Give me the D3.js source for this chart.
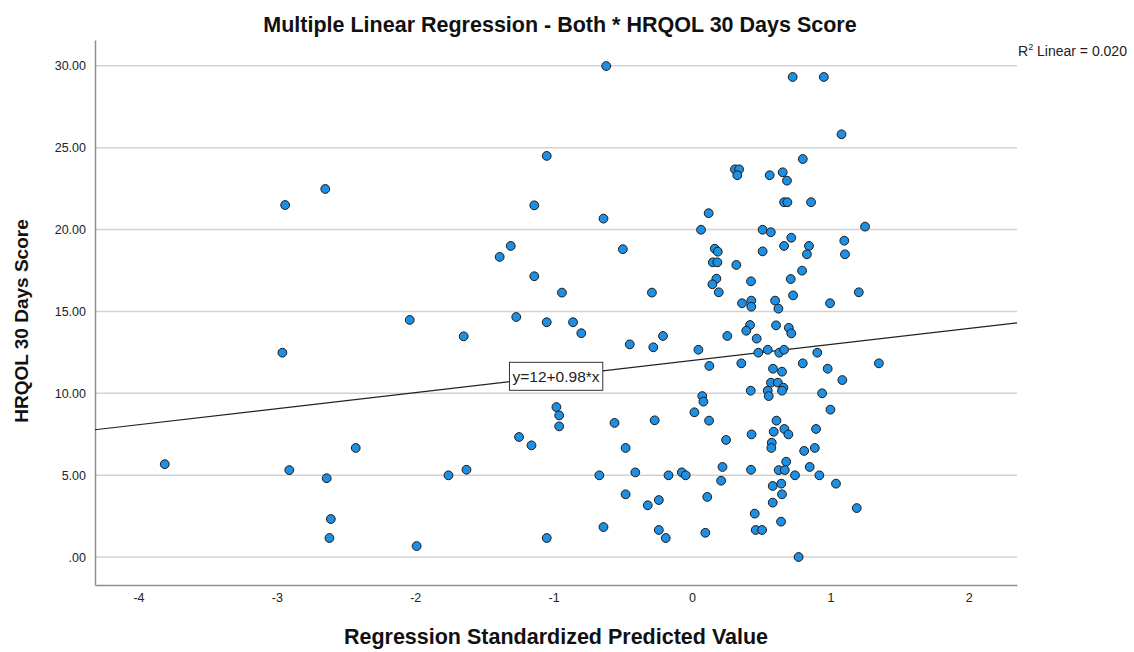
<!DOCTYPE html>
<html>
<head>
<meta charset="utf-8">
<script src="https://cdn.jsdelivr.net/npm/d3@7"></script>
<style>
  body { margin: 0; background: #fff; }
  text { font-family: "Liberation Sans", Arial, sans-serif; }
</style>
</head>
<body>
<div id="chart"></div>
<script>
// values
const predicted = [
  -3.81, -2.94, -2.65, -2.96, -2.91, -2.64, -2.43, -2.61, -2.62, -2.04,
  -1.99, -1.76, -1.63, -1.65, -1.05, -1.14, -0.64, -1.31, -1.39, -0.50,
  -1.14, -0.94, -0.29, -1.27, -1.05, -0.86, -0.80, -0.45, -0.28, -0.21,
  -0.98, -0.96, -0.96, -1.25, -1.16, -1.05, -0.56, -0.48, -0.27, -0.67,
  -0.41, -0.48, -0.32, -0.24, -0.64, -0.24, -0.19, -0.62,
  0.125, 0.356, 0.80, 1.35, 0.585, 0.65, 0.98, 1.086, 0.57, 0.62,
  0.66, 0.65, 0.547, 0.554, 0.424, 0.94, 0.074, 0.082, 0.017, 0.123,
  1.00, 0.61, 0.59, 0.667, 0.696, 0.896, 0.43, 0.246, 0.576, 0.573,
  0.81, 0.887, 0.68, 0.626, 0.67, 0.85, 0.744, 0.92, 1.04, 0.426,
  0.22, 0.21, -0.17, -0.074, -0.046, 0.583, 0.645, 0.65, 0.583, 0.11,
  0.453, 1.19, 0.643, 0.096, 0.46, 0.506, 0.77, 0.665, 0.689, 0.86,
  0.12, 0.065, 0.51, 0.569, 1.25, 0.717, 1.10, 0.665, 0.845, 0.164,
  0.186, 0.51, 0.83, 1.105, 0.15, 0.183, 0.32, 0.795, 0.176, 0.147,
  0.426, 0.713, 0.193, 0.73, 1.205, 0.361, 0.428, 0.428, 0.60, 0.624,
  0.997, 0.419, 0.392, 0.607, 0.699, 0.717, 0.467, 0.255, 0.046, 0.479,
  0.547, 0.63, 0.665, 0.905, 0.727, 0.952, 1.08, 0.80, 0.31, 0.34,
  0.327, 0.561, 0.655, 0.686
];
const score = [
  5.67, 21.50, 22.48, 12.48, 5.31, 4.81, 6.66, 2.32, 1.16, 14.48,
  0.67, 4.99, 5.33, 13.48, 24.50, 21.48, 20.67, 19.00, 18.33, 18.80,
  17.15, 16.15, 16.15, 14.66, 14.34, 14.34, 13.67, 12.99, 12.81, 13.50,
  9.16, 8.65, 7.98, 7.33, 6.82, 1.16, 8.19, 6.66, 8.35, 4.99,
  5.17, 3.83, 3.16, 3.48, 1.83, 1.65, 1.16, 29.99,
  11.67, 11.83, 11.83, 11.83, 11.50, 11.32, 11.50, 10.81, 10.65, 10.65,
  10.34, 10.16, 10.16, 9.83, 10.16, 10.00, 9.83, 9.49, 8.84, 8.33,
  9.00, 8.33, 7.65, 7.82, 7.49, 7.82, 7.49, 7.15, 6.98, 6.66,
  6.48, 6.66, 5.82, 5.31, 5.31, 5.50, 4.99, 4.99, 4.48, 5.33,
  5.50, 4.66, 4.99, 5.17, 4.99, 4.34, 4.48, 3.83, 3.32, 3.67,
  2.65, 2.99, 2.16, 1.48, 1.65, 1.65, 0.00, 21.67, 21.67, 21.67,
  21.00, 19.99, 19.99, 19.84, 20.18, 19.50, 19.32, 19.00, 19.00, 18.83,
  18.65, 18.67, 18.49, 18.49, 18.00, 18.00, 17.84, 17.49, 17.00, 16.66,
  16.84, 16.98, 16.17, 15.98, 16.17, 15.50, 15.66, 15.29, 15.66, 15.17,
  15.50, 14.17, 13.82, 14.15, 14.00, 13.66, 13.34, 13.50, 12.66, 12.48,
  12.66, 12.48, 12.66, 12.48, 29.32, 29.32, 25.82, 24.31, 23.68, 23.68,
  23.32, 23.32, 23.50, 22.99
];
const xTicks = [-4, -3, -2, -1, 0, 1, 2];
const yTicks = [0, 5, 10, 15, 20, 25, 30];
const fitIntercept = 12, fitSlope = 0.98;
const rSquared = "0.020";

const width = 1134, height = 652,
      margin = {top: 40, right: 117, bottom: 67, left: 95};

const points = predicted.map((p, i) => ({x: p, y: score[i]}));

const x = d3.scaleLinear()
  .domain([-4.314, 2.348])
  .range([margin.left, width - margin.right]);
const y = d3.scaleLinear()
  .domain([-1.71, 31.58])
  .range([height - margin.bottom, margin.top]);

const svg = d3.select("#chart")
  .append("svg")
    .attr("width", width)
    .attr("height", height);

// gridlines
svg.append("g")
    .attr("stroke", "#d2d2d2")
    .attr("stroke-width", 1.5)
  .selectAll("line")
  .data(yTicks)
  .join("line")
    .attr("x1", margin.left)
    .attr("x2", width - margin.right)
    .attr("y1", d => y(d))
    .attr("y2", d => y(d));

// axes
const yAxis = svg.append("g")
    .attr("transform", `translate(${margin.left},0)`)
    .call(d3.axisLeft(y).tickValues(yTicks).tickSize(0).tickPadding(9)
      .tickFormat(d => d === 0 ? ".00" : d.toFixed(2)));
const xAxis = svg.append("g")
    .attr("transform", `translate(0,${height - margin.bottom})`)
    .call(d3.axisBottom(x).tickValues(xTicks).tickSize(0).tickPadding(8)
      .tickFormat(d => String(d)));

[yAxis, xAxis].forEach(g => {
  g.select(".domain").attr("stroke", "#8f8f8f").attr("stroke-width", 1.5);
  g.selectAll("text")
    .attr("font-size", 12.5)
    .attr("font-family", "'Liberation Sans', Arial, sans-serif")
    .attr("fill", "#222");
});

// fit line
const xd = x.domain();
svg.append("line")
    .attr("x1", x(xd[0]))
    .attr("y1", y(fitIntercept + fitSlope * xd[0]))
    .attr("x2", x(xd[1]))
    .attr("y2", y(fitIntercept + fitSlope * xd[1]))
    .attr("stroke", "#222")
    .attr("stroke-width", 1.2);

// points
svg.append("g")
  .selectAll("circle")
  .data(points)
  .join("circle")
    .attr("cx", d => x(d.x))
    .attr("cy", d => y(d.y))
    .attr("r", 4.4)
    .attr("fill", "#1f8fe3")
    .attr("stroke", "#1a1a1a")
    .attr("stroke-width", 1);

// equation label at the middle of the plot
const xm = (xd[0] + xd[1]) / 2;
const lab = svg.append("g")
    .attr("transform", `translate(${x(xm)},${y(fitIntercept + fitSlope * xm)})`);
const labText = lab.append("text")
    .attr("text-anchor", "middle")
    .attr("dy", "0.35em")
    .attr("font-size", 15.5)
    .attr("fill", "#222")
    .text(`y=${fitIntercept}+${fitSlope}*x`);
const bb = labText.node().getBBox();
lab.insert("rect", "text")
    .attr("x", bb.x - 3)
    .attr("y", -14)
    .attr("width", bb.width + 6)
    .attr("height", 28)
    .attr("fill", "#fff")
    .attr("stroke", "#333")
    .attr("stroke-width", 1);

// titles
svg.append("text")
    .attr("x", 560)
    .attr("y", 32)
    .attr("text-anchor", "middle")
    .attr("font-size", 21.5)
    .attr("font-weight", "bold")
    .attr("fill", "#111")
    .text("Multiple Linear Regression - Both * HRQOL 30 Days Score");

svg.append("text")
    .attr("x", 556)
    .attr("y", 644)
    .attr("text-anchor", "middle")
    .attr("font-size", 21.5)
    .attr("font-weight", "bold")
    .attr("fill", "#111")
    .text("Regression Standardized Predicted Value");

svg.append("text")
    .attr("transform", `translate(28,321) rotate(-90)`)
    .attr("text-anchor", "middle")
    .attr("font-size", 19)
    .attr("font-weight", "bold")
    .attr("fill", "#111")
    .text("HRQOL 30 Days Score");

const r2 = svg.append("text")
    .attr("x", 1018)
    .attr("y", 56)
    .attr("font-size", 14)
    .attr("fill", "#222");
r2.append("tspan").text("R");
r2.append("tspan").attr("font-size", 9).attr("dy", -6).text("2");
r2.append("tspan").attr("dy", 6).text(` Linear = ${rSquared}`);
</script>
</body>
</html>
